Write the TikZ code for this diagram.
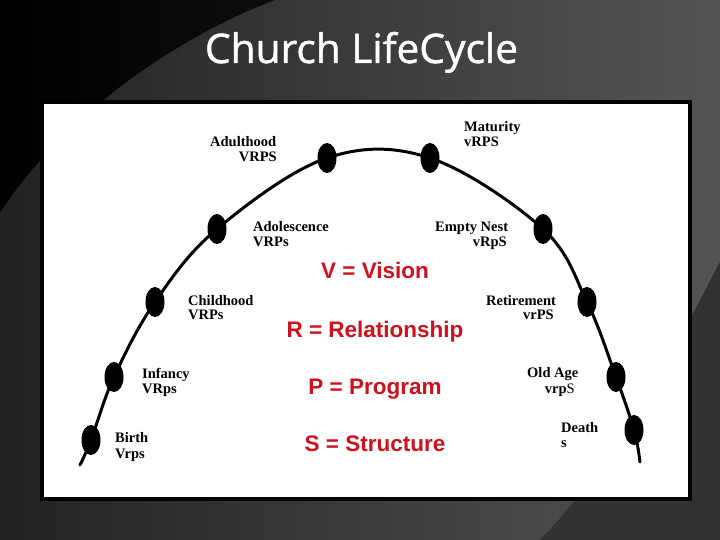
\documentclass[tikz,border=0pt]{standalone}
\usepackage{fontspec}
\setmainfont{Liberation Serif}
\newfontfamily\redfont{Liberation Sans}
\newfontfamily\titlefont[FakeBold=1.2]{Open Sans}
\usetikzlibrary{shapes.geometric}
\definecolor{redtxt}{RGB}{206,17,28}
\definecolor{bgAleft}{RGB}{0,0,0}
\definecolor{bgAright}{RGB}{34,34,34}
\definecolor{bgBleft}{RGB}{34,34,34}
\definecolor{bgBright}{RGB}{84,84,84}
\definecolor{bgC}{RGB}{50,50,50}
\tikzset{
  dot/.style={ellipse, fill=black, minimum width=19pt, minimum height=30pt, inner sep=0pt},
  lbl/.style={font=\bfseries\fontsize{14.5}{15}\selectfont, inner sep=0pt, text=black},
  key/.style={font=\redfont\bfseries\fontsize{22.5}{24}\selectfont, text=redtxt, inner sep=0pt, anchor=base},
  curveline/.style={line width=3pt, line cap=round}
}
\begin{document}
\begin{tikzpicture}[x=1pt,y=-1pt]
\useasboundingbox (0,0) rectangle (720,540);
% background
\fill[left color=bgAleft, right color=bgAright] (0,0) rectangle (720,540);
\fill[left color=bgBleft, right color=bgBright] (275,0) -- (720,0) -- (720,262)
  .. controls (660,380) and (600,480) .. (540,540) -- (0,540) -- (0,213)
  .. controls (60,120) and (170,40) .. (275,0) -- cycle;
\fill[bgC] (720,262) .. controls (660,380) and (600,480) .. (540,540) -- (720,540) -- cycle;
% title
\node[anchor=base, inner sep=0pt, text=white] (title) at (361.5,63)
  {\resizebox{313pt}{!}{\titlefont Church LifeCycle}};
% panel
\draw[line width=4pt, fill=white] (42,102) rectangle (690,499);
% curve points
\coordinate (start) at (80,465);
\coordinate (pbirth) at (91,440);
\coordinate (pinfancy) at (114,377);
\coordinate (pchild) at (155,302);
\coordinate (padol) at (217,229);
\coordinate (padult) at (327,158);
\coordinate (pmature) at (430,158);
\coordinate (pnest) at (543,229);
\coordinate (pretire) at (587,302);
\coordinate (pold) at (616,377);
\coordinate (pdeath) at (634,430);
\coordinate (end) at (640,462);
\draw[curveline] plot[smooth, tension=0.6] coordinates {(start) (pbirth) (pinfancy) (pchild) (padol) (padult) (pmature) (pnest) (pretire) (pold) (pdeath) (end)};
% dots
\foreach \p in {pbirth,pinfancy,pchild,padol,padult,pmature,pnest,pretire,pold,pdeath}
  \node[dot] (d\p) at (\p) {};
% labels
\node[lbl, anchor=base west] (adult1) at (210,147) {Adulthood};
\node[lbl, anchor=base east] (adult2) at (277,162) {VRPS};
\node[lbl, anchor=base west] (adol1) at (253,232) {Adolescence};
\node[lbl, anchor=base west] (adol2) at (253,246) {VRPs};
\node[lbl, anchor=base west] (child1) at (188,305) {Childhood};
\node[lbl, anchor=base west] (child2) at (188,319) {VRPs};
\node[lbl, anchor=base west] (inf1) at (142,378) {Infancy};
\node[lbl, anchor=base west] (inf2) at (142,393) {VRps};
\node[lbl, anchor=base west] (birth1) at (115,442) {Birth};
\node[lbl, anchor=base west] (birth2) at (115,458) {Vrps};
\node[lbl, anchor=base west] (mat1) at (464,132) {Maturity};
\node[lbl, anchor=base west] (mat2) at (464,147) {vRPS};
\node[lbl, anchor=base west] (nest1) at (435,232) {Empty Nest};
\node[lbl, anchor=base east] (nest2) at (507,247) {vRpS};
\node[lbl, anchor=base west] (ret1) at (486,305) {Retirement};
\node[lbl, anchor=base east] (ret2) at (554,319) {vrPS};
\node[lbl, anchor=base west] (old1) at (527,377) {Old Age};
\node[lbl, anchor=base east] (old2) at (575,393) {vrp\mdseries S};
\node[lbl, anchor=base west] (death1) at (561,432) {Death};
\node[lbl, anchor=base west] (death2) at (561,447) {s};
% key
\node[key] (kv) at (375,278) {V = Vision};
\node[key] (kr) at (375,337) {R = Relationship};
\node[key] (kp) at (375,394) {P = Program};
\node[key] (ks) at (375,451) {S = Structure};
\end{tikzpicture}
\end{document}
